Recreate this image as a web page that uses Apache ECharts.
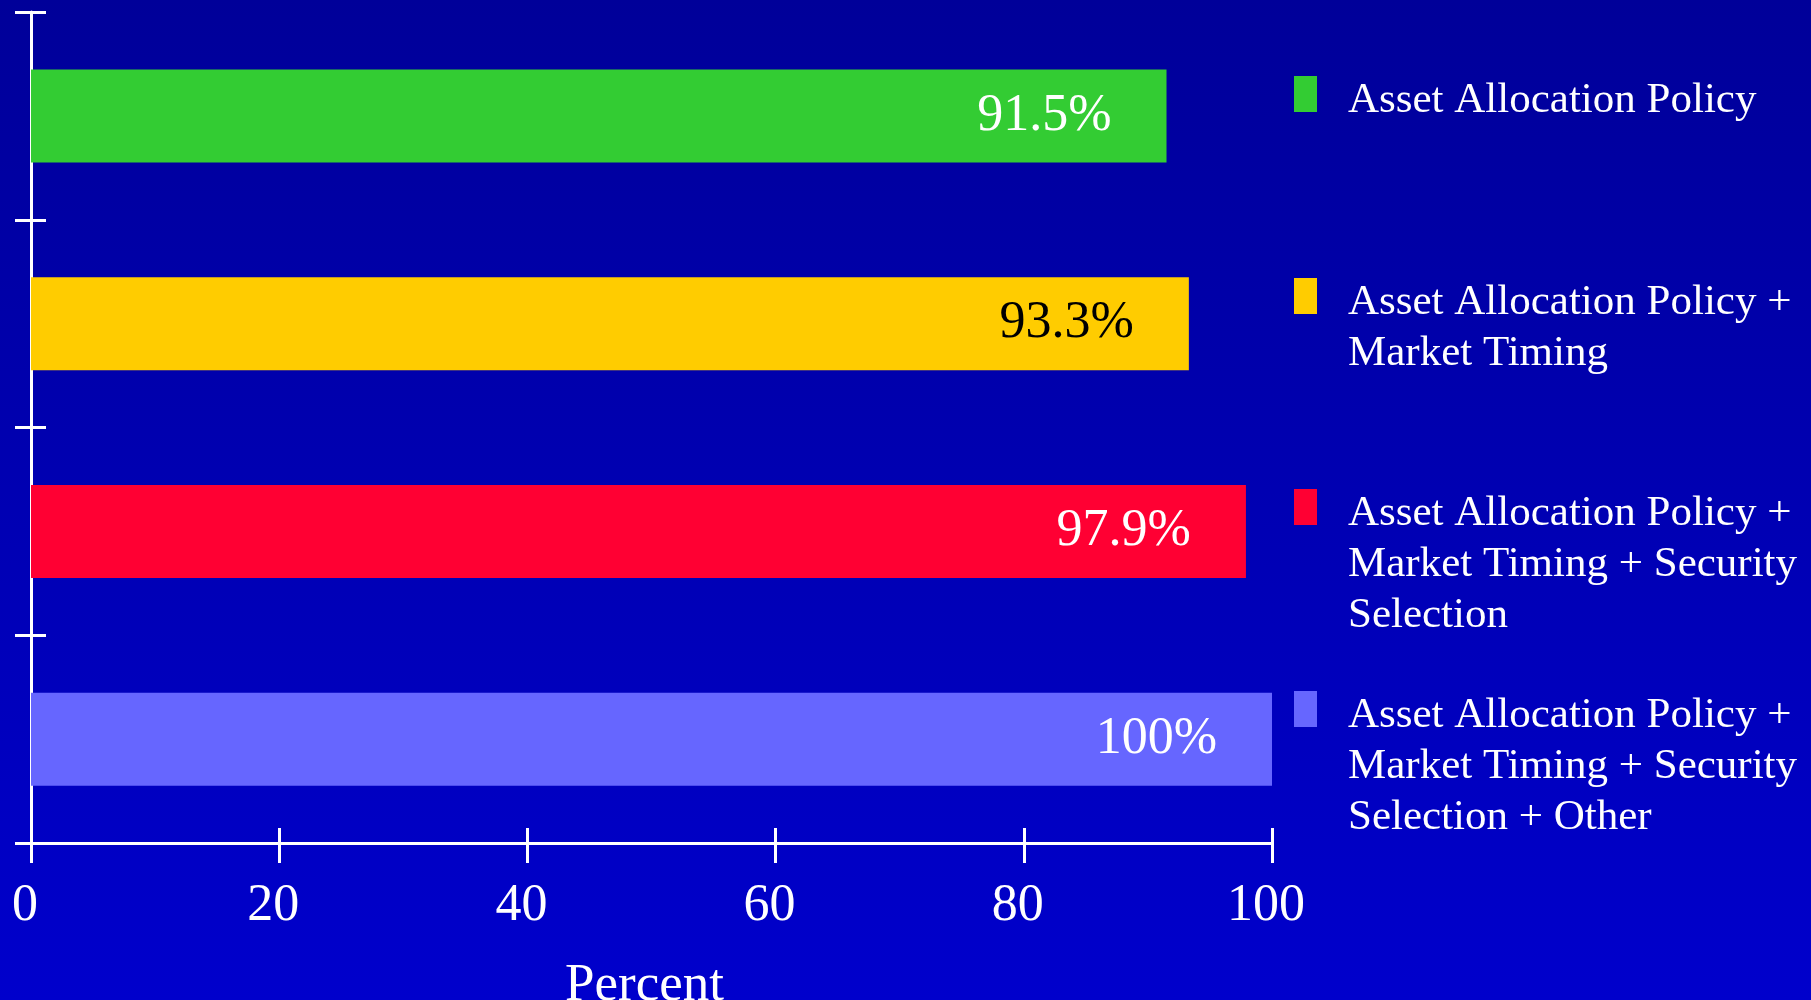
<!DOCTYPE html>
<html>
<head>
<meta charset="utf-8">
<script src="https://cdn.jsdelivr.net/npm/echarts@6/dist/echarts.min.js"></script>
<style>
  html, body { margin: 0; padding: 0; width: 1811px; height: 1000px; overflow: hidden; }
  #chart { width: 1811px; height: 1000px; background: linear-gradient(to bottom, #000099 0%, #0000CC 100%); }
</style>
</head>
<body>
<div id="chart"></div>
<script>
// Share of return variation explained, by cumulative component
const categories = [
  'Asset Allocation Policy',
  'Asset Allocation Policy + Market Timing',
  'Asset Allocation Policy + Market Timing + Security Selection',
  'Asset Allocation Policy + Market Timing + Security Selection + Other'
];
const legendLines = [
  ['Asset Allocation Policy'],
  ['Asset Allocation Policy +', 'Market Timing'],
  ['Asset Allocation Policy +', 'Market Timing + Security', 'Selection'],
  ['Asset Allocation Policy +', 'Market Timing + Security', 'Selection + Other']
];
const values = [91.5, 93.3, 97.9, 100];
const barColors = ['#33CC33', '#FFCC00', '#FF0033', '#6666FF'];
const labelColors = ['#FFFFFF', '#000000', '#FFFFFF', '#FFFFFF'];
const xTicks = [0, 20, 40, 60, 80, 100];
const xAxisName = 'Percent';

const FONT = '"Liberation Serif", "Times New Roman", serif';
const WHITE = '#FFFFFF';

// legend layout: icon tops and text metrics
const legendIconTops = [76, 278, 489, 691];
const legendLeft = 1294;
const iconW = 23, iconH = 36;
const legendFont = 43, legendLH = 51;
const legendTextDrop = 7;   // first text line sits slightly below the icon centre

const chart = echarts.init(document.getElementById('chart'), null, { renderer: 'canvas' });

const series = categories.map((name, i) => ({
  name: name,
  type: 'bar',
  stack: 'all',
  barWidth: 93,
  xAxisIndex: 0,
  yAxisIndex: 0,
  itemStyle: { color: barColors[i] },
  label: {
    show: true,
    position: 'insideRight',
    distance: 55,
    color: labelColors[i],
    fontFamily: FONT,
    fontSize: 52,
    formatter: (p) => p.value + '%'
  },
  emphasis: { disabled: true },
  data: categories.map((c, j) => (j === i ? values[i] : '-'))
}));

// One legend block per series so each sits beside its own bar.
// Legend text is centred on the icon, so a spacer line is put in front
// to bring the first real line level with the icon.
const legends = categories.map((name, i) => {
  const n = legendLines[i].length;
  const gap = (n - 1) * legendLH + 2 * legendTextDrop;
  const blockH = gap + n * legendLH;
  const rectTop = Math.min(0, iconH / 2 - blockH / 2);
  const text = '{b| }\n' + legendLines[i].map((s) => '{t|' + s + '}').join('\n');
  return {
    data: [name],
    left: legendLeft,
    top: legendIconTops[i] + rectTop,
    orient: 'vertical',
    padding: 0,
    icon: 'rect',
    itemWidth: iconW,
    itemHeight: iconH,
    selectedMode: false,
    formatter: () => text,
    textStyle: {
      color: WHITE,
      fontFamily: FONT,
      fontSize: legendFont,
      lineHeight: legendLH,
      padding: [0, 0, 0, 26],
      backgroundColor: 'rgba(0,0,0,0)',
      rich: {
        t: { color: WHITE, fontFamily: FONT, fontSize: legendFont, lineHeight: legendLH },
        b: { fontSize: 8, lineHeight: gap, height: gap }
      }
    }
  };
});

const baseX = {
  type: 'value',
  min: xTicks[0],
  max: xTicks[xTicks.length - 1],
  interval: xTicks[1] - xTicks[0],
  position: 'bottom',
  splitLine: { show: false }
};

const baseY = {
  type: 'category',
  data: categories,
  inverse: true,
  position: 'left',
  axisLabel: { show: false },
  splitLine: { show: false }
};

chart.setOption({
  animation: false,
  backgroundColor: 'transparent',
  grid: { left: 31, right: 539, top: 12, bottom: 157, containLabel: false, outerBoundsMode: 'none' },
  legend: legends,
  xAxis: [
    Object.assign({}, baseX, {
      axisLine: { show: true, lineStyle: { color: WHITE, width: 3 } },
      axisTick: { show: true, inside: false, length: 20, lineStyle: { color: WHITE, width: 3 } },
      axisLabel: {
        show: true, color: WHITE, fontFamily: FONT, fontSize: 52, margin: 37,
        padding: [0, 12, 0, 0]
      },
      name: xAxisName,
      nameLocation: 'middle',
      nameGap: 117,
      nameTextStyle: { color: WHITE, fontFamily: FONT, fontSize: 53, padding: [0, 14, 0, 0] }
    }),
    Object.assign({}, baseX, {
      axisLine: { show: false },
      axisTick: { show: true, inside: true, length: 15, lineStyle: { color: WHITE, width: 3 } },
      axisLabel: { show: false }
    })
  ],
  yAxis: [
    Object.assign({}, baseY, {
      axisLine: { show: true, lineStyle: { color: WHITE, width: 3 } },
      axisTick: { show: true, inside: false, length: 16, lineStyle: { color: WHITE, width: 3 } }
    }),
    Object.assign({}, baseY, {
      axisLine: { show: false },
      axisTick: { show: true, inside: true, length: 15, lineStyle: { color: WHITE, width: 3 } }
    })
  ],
  series: series
});
</script>
</body>
</html>
